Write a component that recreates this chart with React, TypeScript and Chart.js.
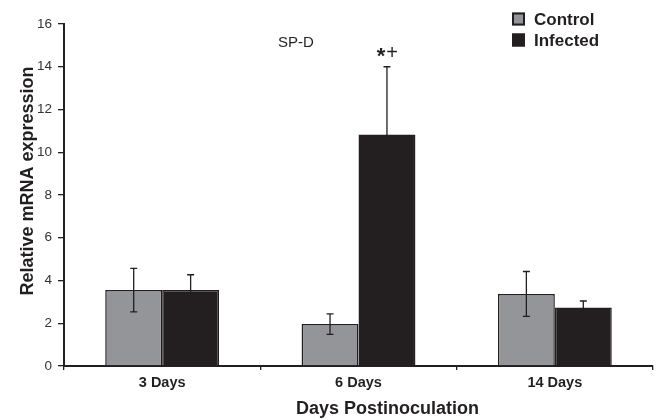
import React, { useEffect, useRef } from "react";
import { Chart, registerables } from "chart.js";

Chart.register(...registerables);

const categories = ["3 Days", "6 Days", "14 Days"];
const controlValues = [3.55, 1.96, 3.37];
const controlErrors = [1.02, 0.48, 1.05];
const infectedValues = [3.55, 10.83, 2.74];
const infectedErrors = [0.72, 3.17, 0.3];
const yTicks = [0, 2, 4, 6, 8, 10, 12, 14, 16];

const FONT = "'Liberation Sans', Arial, Helvetica, sans-serif";
const DARK = "#231f20";
const GRAY = "#939598";

const errorsByDataset = [controlErrors, infectedErrors];

const errorBarPlugin = {
  id: "errorBars",
  afterDatasetsDraw(chart: any) {
    const ctx = chart.ctx;
    const yScale = chart.scales.y;
    ctx.save();
    ctx.strokeStyle = DARK;
    ctx.lineWidth = 1.3;
    chart.data.datasets.forEach((ds: any, i: number) => {
      const meta = chart.getDatasetMeta(i);
      meta.data.forEach((bar: any, j: number) => {
        const v = ds.data[j];
        const e = errorsByDataset[i][j];
        const yTop = yScale.getPixelForValue(v + e);
        const yBot = yScale.getPixelForValue(v - e);
        const x = bar.x;
        ctx.beginPath();
        ctx.moveTo(x, yTop);
        ctx.lineTo(x, yBot);
        ctx.moveTo(x - 3.5, yTop);
        ctx.lineTo(x + 3.5, yTop);
        ctx.moveTo(x - 3.5, yBot);
        ctx.lineTo(x + 3.5, yBot);
        ctx.stroke();
      });
    });
    // significance marker above infected 6 Days
    const meta = chart.getDatasetMeta(1);
    const bar = meta.data[1];
    const top = yScale.getPixelForValue(infectedValues[1] + infectedErrors[1]);
    ctx.fillStyle = DARK;
    ctx.textAlign = "center";
    ctx.textBaseline = "middle";
    ctx.font = `bold 22px ${FONT}`;
    ctx.fillText("*", bar.x - 6, top - 10);
    ctx.font = `20px ${FONT}`;
    ctx.fillText("+", bar.x + 5, top - 13);
    ctx.restore();
  },
};

const textPlugin = {
  id: "texts",
  afterDraw(chart: any) {
    const ctx = chart.ctx;
    const area = chart.chartArea;
    ctx.save();
    ctx.fillStyle = DARK;
    // y axis title
    ctx.font = `bold 18px ${FONT}`;
    ctx.textAlign = "center";
    ctx.textBaseline = "middle";
    ctx.save();
    ctx.translate(28, 181);
    ctx.rotate(-Math.PI / 2);
    ctx.fillText("Relative mRNA expression", 0, 0);
    ctx.restore();
    // x axis title
    ctx.fillText("Days Postinoculation", (area.left + area.right) / 2 + 29, 409);
    // inner title
    ctx.font = `15px ${FONT}`;
    ctx.fillText("SP-D", 296, 43);
    // legend
    const items = [
      { label: "Control", color: GRAY, y: 19 },
      { label: "Infected", color: DARK, y: 40 },
    ];
    ctx.textAlign = "left";
    ctx.font = `bold 17px ${FONT}`;
    items.forEach((it) => {
      ctx.fillStyle = it.color;
      ctx.fillRect(512, it.y - 6.5, 13, 13);
      ctx.strokeStyle = DARK;
      ctx.lineWidth = 2;
      ctx.strokeRect(513, it.y - 5.5, 11, 11);
      ctx.fillStyle = DARK;
      ctx.fillText(it.label, 534, it.y + 1);
    });
    ctx.restore();
  },
};

export default function App() {
  const canvasRef = useRef<HTMLCanvasElement | null>(null);

  useEffect(() => {
    if (!canvasRef.current) return;
    const chart = new Chart(canvasRef.current, {
      type: "bar",
      data: {
        labels: categories,
        datasets: [
          {
            label: "Control",
            data: controlValues,
            backgroundColor: GRAY,
            borderColor: DARK,
            borderWidth: 1.5,
            barPercentage: 1,
            categoryPercentage: 0.58,
          },
          {
            label: "Infected",
            data: infectedValues,
            backgroundColor: DARK,
            borderColor: DARK,
            borderWidth: 1.5,
            barPercentage: 1,
            categoryPercentage: 0.58,
          },
        ],
      },
      options: {
        responsive: false,
        animation: false,
        devicePixelRatio: 1,
        layout: { padding: { top: 24, right: 4, left: 0, bottom: 0 } },
        plugins: {
          legend: { display: false },
          title: { display: false },
          tooltip: { enabled: false },
        },
        scales: {
          x: {
            afterFit: (s: any) => {
              s.height = 53;
            },
            grid: {
              display: true,
              drawOnChartArea: false,
              drawTicks: true,
              tickLength: 4,
              color: DARK,
              lineWidth: 1.3,
            },
            border: { display: true, color: DARK, width: 2 },
            ticks: {
              color: DARK,
              font: { family: FONT, size: 14.5, weight: "bold" },
              padding: 4,
            },
          },
          y: {
            min: 0,
            max: 16,
            afterFit: (s: any) => {
              s.width = 64;
            },
            afterBuildTicks: (s: any) => {
              s.ticks = yTicks.map((v) => ({ value: v }));
            },
            grid: {
              display: true,
              drawOnChartArea: false,
              drawTicks: true,
              tickLength: 6,
              color: DARK,
              lineWidth: 1.3,
            },
            border: { display: true, color: DARK, width: 2 },
            ticks: {
              color: "#333333",
              font: { family: FONT, size: 13.5 },
              padding: 6,
            },
          },
        },
      },
      plugins: [errorBarPlugin, textPlugin],
    } as any);
    return () => chart.destroy();
  }, []);

  return (
    <div style={{ position: "absolute", left: 0, top: 0, width: 657, height: 419, background: "#fff" }}>
      <canvas ref={canvasRef} width={657} height={419} style={{ display: "block" }} />
    </div>
  );
}
